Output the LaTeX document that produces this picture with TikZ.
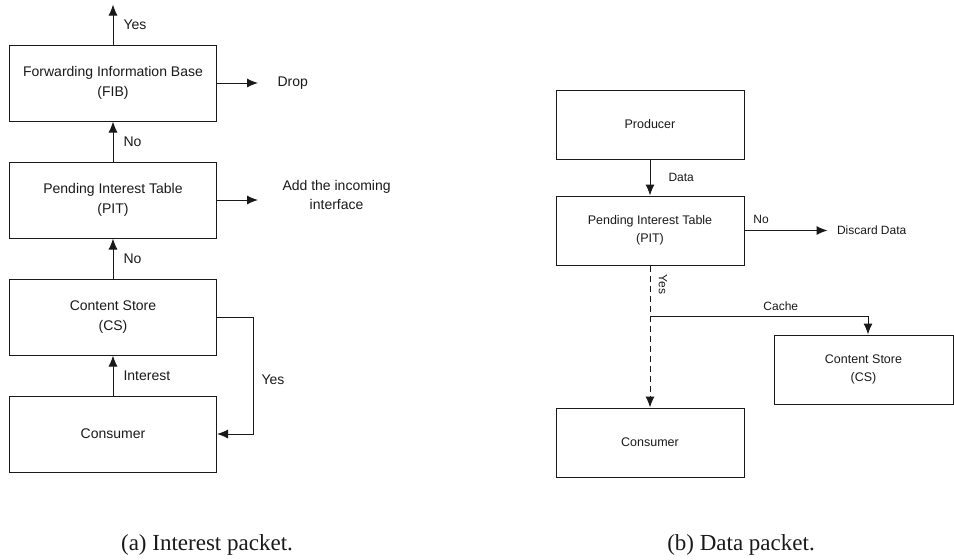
\documentclass[tikz,border=0pt]{standalone}
\usepackage{fontspec}
\setmainfont{Liberation Serif}
\setsansfont{Liberation Sans}
\usetikzlibrary{positioning, arrows.meta, calc}

\begin{document}
\begin{tikzpicture}[x=1pt, y=-1pt, node distance=40pt, line width=1pt, color=black!90,
	>={Latex[length=11pt, width=9pt]},
	lblock/.style={draw, minimum width=207pt, minimum height=76pt, align=center, font=\sffamily\fontsize{14}{20}\selectfont},
	rblock/.style={draw, minimum width=188pt, minimum height=69pt, align=center, font=\sffamily\fontsize{12.5}{18}\selectfont},
	llbl/.style={inner sep=0pt, align=center, font=\sffamily\fontsize{14}{19}\selectfont},
	rlbl/.style={inner sep=0pt, font=\sffamily\fontsize{12}{14}\selectfont},
	capt/.style={font=\rmfamily\fontsize{23}{26}\selectfont}]
	\useasboundingbox (0,0) rectangle (954,560);
	% (a) interest packet
	\node[lblock] (fib) at (113,83) {Forwarding Information Base\\(FIB)};
	\node[lblock, below =of fib] (pit) {Pending Interest Table\\(PIT)};
	\node[lblock, below =of pit] (cs) {Content Store\\(CS)};
	\node[lblock, below =of cs] (cons) {Consumer};
	\coordinate[above =40pt of fib] (fwd);
	\coordinate[right =41pt of fib] (dropend);
	\coordinate[right =41pt of pit] (addend);
	\node[llbl, right =19pt of dropend] (drop) {Drop};
	\node[llbl, right =24pt of addend, yshift=5pt] (add) {Add the incoming\\interface};
	\draw
	(fib) edge[->] node[llbl, right=10pt] {Yes} (fwd)
	(pit) edge[->] node[llbl, right=10pt] {No} (fib)
	(cs) edge[->] node[llbl, right=10pt] {No} (pit)
	(cons) edge[->] node[llbl, right=10pt] {Interest} (cs)
	(fib) edge[->] (dropend)
	(pit) edge[->] (addend);
	\draw[->] (cs.east) -- ++(36,0) |- node[llbl, pos=0.27, right=8pt] {Yes} (cons.east);
	% (b) data packet
	\node[rblock] (prod) at (650,124.5) {Producer};
	\node[rblock, below =36pt of prod] (rpit) {Pending Interest Table\\(PIT)};
	\node[rblock, below =142pt of rpit] (rcons) {Consumer};
	\node[rblock, minimum width=179pt] (rcs) at (863.5,369.5) {Content Store\\(CS)};
	\coordinate[right =83pt of rpit] (discend);
	\coordinate (split) at ($(rpit.south)+(0,51)$);
	\coordinate (cachein) at ($(rcs.north)+(4.5,0)$);
	\node[rlbl, right =9pt of discend] (disc) {Discard Data};
	\node[rlbl, rotate=-90] (yes) at ($(rpit.south)+(13,19)$) {Yes};
	\draw
	(prod) edge[->] node[rlbl, right=18pt] {Data} (rpit)
	(rpit) edge[->] node[rlbl, pos=0.2, above=6pt] {No} (discend)
	(rpit) edge[->, dash pattern=on 6pt off 4pt] (rcons);
	\draw[->] (split) -| node[rlbl, pos=0.3, above=5pt] {Cache} (cachein);
	% captions
	\node[capt] (capa) at (207,545) {(a) Interest packet.};
	\node[capt] (capb) at (741,545) {(b) Data packet.};
\end{tikzpicture}
\end{document}
